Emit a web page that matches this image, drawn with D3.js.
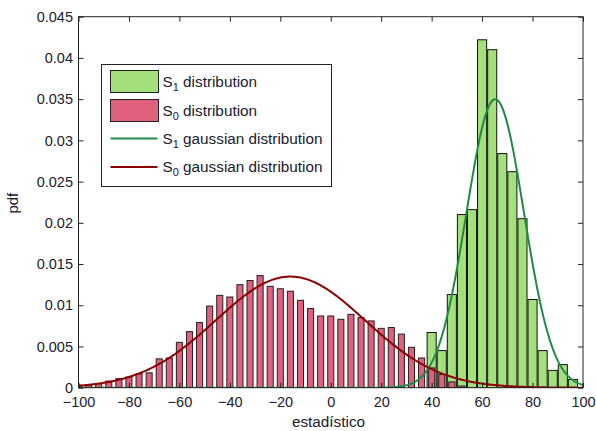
<!DOCTYPE html>
<html>
<head>
<meta charset="utf-8">
<script src="https://cdn.jsdelivr.net/npm/d3@7"></script>
<style>
  html, body { margin: 0; padding: 0; background: #fff; }
  svg { display: block; }
  text { font-family: "Liberation Sans", Arial, sans-serif; fill: #20202e; }
</style>
</head>
<body>
<svg id="chart" width="596" height="431"></svg>
<script>
// ---- data ----
const s0Centers = [-100,-96,-92,-88,-84,-80,-76,-72,-68,-64,-60,-56,-52,-48,-44,-40,-36,-32,-28,-24,-20,-16,-12,-8,-4,0,4,8,12,16,20,24,28,32,36,40,44,48,52];
const s0Values  = [0.0003,0.0003,0.0005,0.0008,0.0011,0.0013,0.0017,0.0018,0.0035,0.0036,0.0055,0.0068,0.0079,0.0099,0.0112,0.0110,0.0125,0.0130,0.0136,0.0123,0.0120,0.0117,0.0106,0.0096,0.0087,0.0087,0.0083,0.0089,0.0085,0.0081,0.0072,0.0073,0.0065,0.0049,0.0036,0.0024,0.0016,0.0007,0.0002];
const s1Centers = [-32,-28,-24,-20,-16,-12,-8,-4,0,4,8,12,16,20,24,28,32,36,40,44,48,52,56,60,64,68,72,76,80,84,88,92,96];
const s1Values  = [0,0,0,0,0,0,0,0,0,0,0,0,0,0,0,0,0,0,0.0067,0.0045,0.0113,0.0210,0.0216,0.0422,0.0410,0.0284,0.0262,0.0205,0.0107,0.0045,0.0021,0.0028,0.0010];
// fitted gaussian parameters (S1, S0)
const gaussNames = ["S1", "S0"];
const gaussMeans = [65.2, -16];
const gaussSDs   = [11.4, 29.6];
const xTicks = [-100,-80,-60,-40,-20,0,20,40,60,80,100];
const yTicks = [0,0.005,0.01,0.015,0.02,0.025,0.03,0.035,0.04,0.045];
const yTickLabels = ["0","0.005","0.01","0.015","0.02","0.025","0.03","0.035","0.04","0.045"];
const legendLabels = [
  {sub: "1", rest: " distribution"},
  {sub: "0", rest: " distribution"},
  {sub: "1", rest: " gaussian distribution"},
  {sub: "0", rest: " gaussian distribution"}
];

// ---- styles ----
const green = "#a3e07c", pink = "#e0607e", greenLine = "#1f8a45", redLine = "#8c0000";
const L = 78.5, R = 583, T = 16.7, B = 387.7;
const binW = 4;

const svg = d3.select("#chart");
const x = d3.scaleLinear().domain([-100, 100]).range([L, R]);
const y = d3.scaleLinear().domain([0, 0.045]).range([B, T]);

svg.append("defs").append("clipPath").attr("id", "clip")
  .append("rect").attr("x", L).attr("y", T).attr("width", R - L).attr("height", B - T);

const plot = svg.append("g").attr("clip-path", "url(#clip)");

// green histogram (S1)
const gW = x(binW * 0.9) - x(0);
plot.append("g").selectAll("rect").data(s1Centers.map((c, i) => ({c, v: s1Values[i]})))
  .join("rect")
  .attr("x", d => x(d.c) - gW / 2)
  .attr("y", d => y(d.v))
  .attr("width", gW)
  .attr("height", d => Math.max(0, y(0) - y(d.v)))
  .attr("fill", green)
  .attr("stroke", "#111")
  .attr("stroke-width", 1);

// pink histogram (S0)
const pW = x(binW * 0.6) - x(0);
plot.append("g").selectAll("rect").data(s0Centers.map((c, i) => ({c, v: s0Values[i]})))
  .join("rect")
  .attr("x", d => x(d.c) - pW / 2)
  .attr("y", d => y(d.v))
  .attr("width", pW)
  .attr("height", d => Math.max(0, y(0) - y(d.v)))
  .attr("fill", pink)
  .attr("stroke", "#222")
  .attr("stroke-width", 1);

// gaussian curves
function pdf(v, m, s) { return Math.exp(-0.5 * ((v - m) / s) ** 2) / (s * Math.sqrt(2 * Math.PI)); }
const xs = d3.range(-100, 100.01, 0.5);
const line = d3.line().x(d => x(d[0])).y(d => y(d[1]));
[[0, greenLine], [1, redLine]].forEach(([i, col]) => {
  plot.append("path")
    .datum(xs.map(v => [v, pdf(v, gaussMeans[i], gaussSDs[i])]))
    .attr("d", line)
    .attr("fill", "none")
    .attr("stroke", col)
    .attr("stroke-width", 2);
});

// axes box & ticks (inward, all four sides)
const tl = 5;
const ax = svg.append("g");
ax.append("g").attr("transform", `translate(0,${B})`)
  .call(d3.axisBottom(x).tickValues(xTicks).tickSize(-tl).tickPadding(9.5).tickFormat(d3.format("d")))
  .call(g => g.select(".domain").remove());
ax.append("g").attr("transform", `translate(0,${T})`)
  .call(d3.axisTop(x).tickValues(xTicks).tickSize(-tl).tickFormat(""))
  .call(g => g.select(".domain").remove());
ax.append("g").attr("transform", `translate(${L},0)`)
  .call(d3.axisLeft(y).tickValues(yTicks).tickSize(-tl).tickPadding(5.5).tickFormat((d, i) => yTickLabels[i]))
  .call(g => g.select(".domain").remove());
ax.append("g").attr("transform", `translate(${R},0)`)
  .call(d3.axisRight(y).tickValues(yTicks).tickSize(-tl).tickFormat(""))
  .call(g => g.select(".domain").remove());
ax.selectAll(".tick line").attr("stroke", "#222");
ax.selectAll(".tick text").style("font-size", "14.5px").attr("fill", "#20202e");
ax.append("rect").attr("x", L).attr("y", T).attr("width", R - L).attr("height", B - T)
  .attr("fill", "none").attr("stroke", "#222").attr("stroke-width", 1);

// axis labels
svg.append("text").attr("x", 328.5).attr("y", 427)
  .attr("text-anchor", "middle").style("font-size", "15.3px").text("estadístico");
svg.append("text").attr("transform", `translate(18,${(T + B) / 2 + 1}) rotate(-90)`)
  .attr("text-anchor", "middle").style("font-size", "15px").text("pdf");

// legend
const lg = svg.append("g");
lg.append("rect").attr("x", 101.5).attr("y", 64.5).attr("width", 230).attr("height", 122)
  .attr("fill", "#fff").attr("stroke", "#222").attr("stroke-width", 1);
const rowY = [81.5, 110.5, 138.5, 167];
lg.append("rect").attr("x", 110.5).attr("y", 70.5).attr("width", 48).attr("height", 22)
  .attr("fill", green).attr("stroke", "#222");
lg.append("rect").attr("x", 110.5).attr("y", 99.5).attr("width", 48).attr("height", 22)
  .attr("fill", pink).attr("stroke", "#222");
lg.append("line").attr("x1", 110.5).attr("x2", 157.5).attr("y1", rowY[2]).attr("y2", rowY[2])
  .attr("stroke", greenLine).attr("stroke-width", 2);
lg.append("line").attr("x1", 110.5).attr("x2", 157.5).attr("y1", rowY[3]).attr("y2", rowY[3])
  .attr("stroke", redLine).attr("stroke-width", 2);
legendLabels.forEach((d, i) => {
  const t = lg.append("text").attr("x", 162.5).attr("y", rowY[i] + 5).style("font-size", "15.3px");
  t.append("tspan").text("S");
  t.append("tspan").attr("dy", 4).style("font-size", "11px").text(d.sub);
  t.append("tspan").attr("dy", -4).text(d.rest);
});
</script>
</body>
</html>
